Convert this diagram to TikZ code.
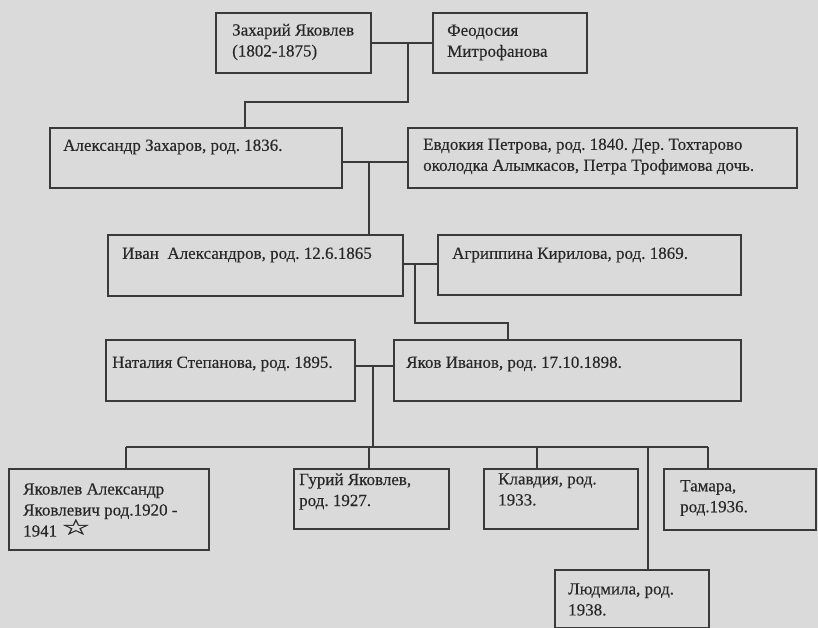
\documentclass[tikz,border=0pt]{standalone}
\usepackage{fontspec}
\usepackage{graphicx}
\setmainfont[BoldFont=Liberation Serif, BoldFeatures={FakeBold=0.3}]{Liberation Serif}
\newfontfamily\symfont[FakeBold=0.8]{DejaVu Sans}
\usetikzlibrary{calc}
\definecolor{bg}{RGB}{218,218,218}
\definecolor{ink}{RGB}{40,40,40}
\definecolor{edge}{RGB}{58,58,58}
\frenchspacing
\begin{document}
\begin{tikzpicture}[x=1pt,y=-1pt,
  box/.style={draw=edge, line width=1.7pt, fill=bg, anchor=north west, inner sep=0pt},
  txt/.style={anchor=west, align=left, inner sep=0pt, text=ink, font=\fontsize{17}{21}\selectfont\bfseries\frenchspacing},
  link/.style={draw=edge, line width=1.7pt}]
\fill[bg] (0,0) rectangle (818,628);
\useasboundingbox (0,0) rectangle (818,628);

% boxes
\node[box, minimum width=155pt, minimum height=60pt] (b1) at (215,12) {};
\node[box, minimum width=154pt, minimum height=60pt] (b2) at (432,12) {};
\node[box, minimum width=292pt, minimum height=60pt] (b3) at (49,127) {};
\node[box, minimum width=389pt, minimum height=60pt] (b4) at (407,127) {};
\node[box, minimum width=295pt, minimum height=61pt] (b5) at (107,234) {};
\node[box, minimum width=303pt, minimum height=60pt] (b6) at (437,234) {};
\node[box, minimum width=249pt, minimum height=61pt] (b7) at (105,339) {};
\node[box, minimum width=347pt, minimum height=61pt] (b8) at (393,339) {};
\node[box, minimum width=200pt, minimum height=81pt] (b9) at (8,468) {};
\node[box, minimum width=155pt, minimum height=60pt] (b10) at (293,468) {};
\node[box, minimum width=154pt, minimum height=60pt] (b11) at (483,468) {};
\node[box, minimum width=152pt, minimum height=61pt] (b12) at (663,468) {};
\node[box, minimum width=154pt, minimum height=58pt] (b13) at (554,569) {};

% texts
\node[txt] (t1) at ($(b1.north west)+(17,30)$) {Захарий Яковлев\\(1802-1875)};
\node[txt] (t2) at ($(b2.north west)+(15,30.5)$) {Феодосия\\Митрофанова};
\node[txt] (t3) at ($(b3.north west)+(14,20)$) {Александр Захаров, род. 1836.};
\node[txt] (t4) at ($(b4.north west)+(16,29.5)$) {Евдокия Петрова, род. 1840. Дер. Тохтарово\\околодка Алымкасов, Петра Трофимова дочь.};
\node[txt] (t5) at ($(b5.north west)+(15,21)$) {Иван\ \ Александров, род. 12.6.1865};
\node[txt] (t6) at ($(b6.north west)+(15,21)$) {Агриппина Кирилова, род. 1869.};
\node[txt] (t7) at ($(b7.north west)+(7,25)$) {Наталия Степанова, род. 1895.};
\node[txt] (t8) at ($(b8.north west)+(13,25)$) {Яков Иванов, род. 17.10.1898.};
\node[txt] (t9) at ($(b9.north west)+(15,42)$) {Яковлев Александр\\Яковлевич род.1920 -\\1941 \raisebox{2pt}{\scalebox{1.9}[1.25]{\symfont ☆}}};
\node[txt] (t10) at ($(b10.north west)+(6,23.5)$) {Гурий Яковлев,\\род. 1927.};
\node[txt] (t11) at ($(b11.north west)+(15,21.5)$) {Клавдия, род.\\1933.};
\node[txt] (t12) at ($(b12.north west)+(17,30)$) {Тамара,\\род.1936.};
\node[txt] (t13) at ($(b13.north west)+(14,30.5)$) {Людмила, род.\\1938.};

% connectors
\draw[link] (b1.east) -- (b2.west);
\coordinate (j1) at (408,42);
\coordinate (k1) at (245,102);
\draw[link] (j1) |- (k1) -- (k1 |- b3.north);

\coordinate (j2) at (369,162);
\draw[link] (b3.east |- j2) -- (b4.west |- j2);
\draw[link] (j2) -- (j2 |- b5.north);

\coordinate (j3) at (415,264);
\draw[link] (b5.east |- j3) -- (b6.west |- j3);
\coordinate (k3) at (508,323);
\draw[link] (j3) |- (k3) -- (k3 |- b8.north);

\coordinate (j4) at (373,366);
\draw[link] (b7.east |- j4) -- (b8.west |- j4);
\coordinate (bm) at (373,447);
\draw[link] (j4) -- (bm);
\coordinate (bl) at (126,447);
\coordinate (br) at (708,447);
\draw[link] (bl) -- (br);
\draw[link] (bl) -- (bl |- b9.north);
\coordinate (d10) at (369,447);
\draw[link] (d10) -- (d10 |- b10.north);
\coordinate (d11) at (537,447);
\draw[link] (d11) -- (d11 |- b11.north);
\draw[link] (br) -- (br |- b12.north);
\coordinate (d13) at (648,447);
\draw[link] (d13) -- (d13 |- b13.north);
\end{tikzpicture}
\end{document}
